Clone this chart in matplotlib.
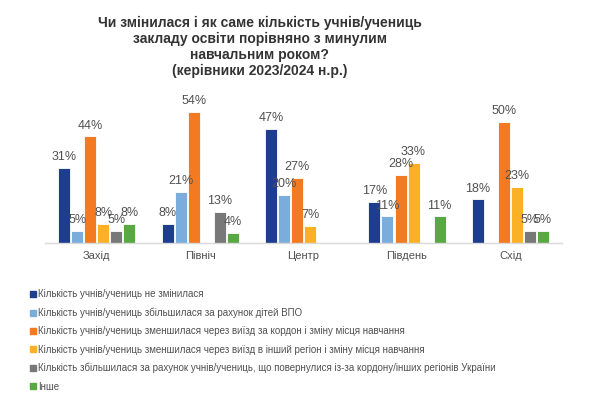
import matplotlib
matplotlib.use("Agg")
import matplotlib.pyplot as plt
import numpy as np
from matplotlib.lines import Line2D

regions = ["Захід", "Північ", "Центр", "Південь", "Схід"]
series_names = [
    "Кількість учнів/учениць не змінилася",
    "Кількість учнів/учениць збільшилася за рахунок дітей ВПО",
    "Кількість учнів/учениць зменшилася через виїзд за кордон і зміну місця навчання",
    "Кількість учнів/учениць зменшилася через виїзд в інший регіон і зміну місця навчання",
    "Кількість збільшилася за рахунок учнів/учениць, що повернулися із-за кордону/інших регіонів України",
    "Інше",
]
unchanged = [31, 8, 47, 17, 18]
idp = [5, 21, 20, 11, None]
abroad = [44, 54, 27, 28, 50]
other_region = [8, None, 7, 33, 23]
returned = [5, 13, None, None, 5]
other = [8, 4, None, 11, 5]
series = [unchanged, idp, abroad, other_region, returned, other]
colors = ["#1f3d8f", "#7aaddb", "#f37a20", "#fbb125", "#787878", "#5aa844"]

title = ("Чи змінилася і як саме кількість учнів/учениць\n"
         "закладу освіти порівняно з минулим\n"
         "навчальним роком?\n"
         "(керівники 2023/2024 н.р.)")

fig = plt.figure(figsize=(6, 4.08), dpi=100)
ax = fig.add_axes([0.075, 0.4044, 0.862, 0.356])

x = np.arange(len(regions))
step = 0.126
width = 0.116
for i, (vals, c) in enumerate(zip(series, colors)):
    off = (i - 2.5) * step
    for j, v in enumerate(vals):
        if v is None:
            continue
        ax.bar(x[j] + off, v, width=width, color=c, edgecolor="white", linewidth=0.6)
        ax.text(x[j] + off, v + 2.0, f"{v}%", ha="center", va="bottom",
                fontsize=9, color="#505050", family="Liberation Sans")

ax.set_xlim(-0.5, 4.5)
ax.set_ylim(0, 60)
ax.set_yticks([])
ax.set_xticks(x)
ax.set_xticklabels(regions, fontsize=8, color="#505050", family="Liberation Sans")
ax.tick_params(axis="x", length=0, pad=6)
for s in ["top", "right", "left"]:
    ax.spines[s].set_visible(False)
ax.spines["bottom"].set_color("#d9d9d9")
ax.spines["bottom"].set_linewidth(1)

fig.text(0.433, 0.962, title, ha="center", va="top", fontsize=10,
         fontweight="bold", color="#333333", family="Liberation Sans", linespacing=1.2)

handles = [Line2D([0], [0], marker="s", linestyle="none", markersize=4,
                  markerfacecolor=c, markeredgecolor=c) for c in colors]
leg = fig.legend(handles, series_names, loc="upper left", bbox_to_anchor=(0.043, 0.30),
                 frameon=False, labelspacing=0.85, handlelength=0.6,
                 handletextpad=0.3, borderaxespad=0, prop={"family": "Liberation Sans", "size": 7})
for t in leg.get_texts():
    t.set_color("#505050")

fig.savefig("out.png", dpi=100, facecolor="white")
